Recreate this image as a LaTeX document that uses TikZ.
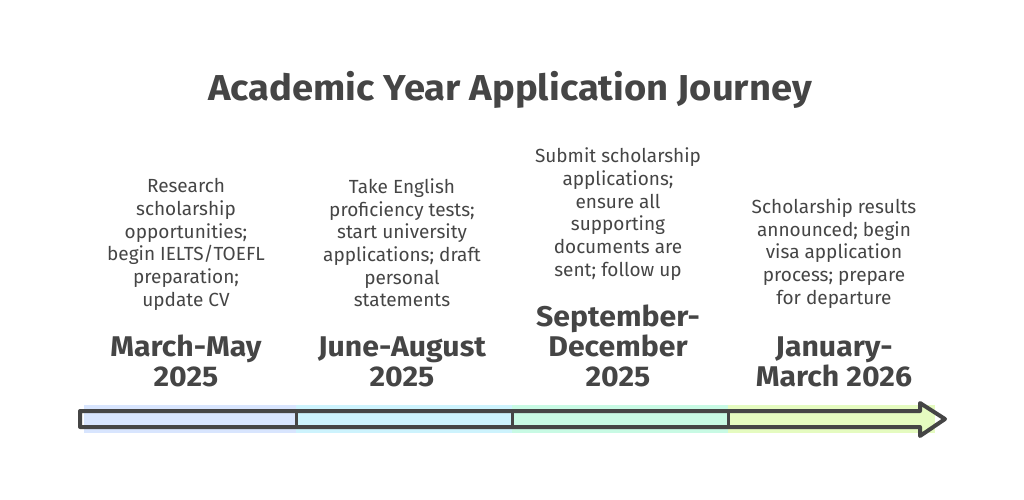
\documentclass[tikz,border=0pt]{standalone}
\usepackage{fontspec}
\setmainfont{Fira Sans}
\newfontfamily\headfont[FakeStretch=1.06]{Fira Sans}
\usepackage{xcolor}
\usetikzlibrary{positioning}
\definecolor{ink}{HTML}{454545}
\definecolor{segA}{HTML}{D8E5FE}
\definecolor{segB}{HTML}{CDF3FD}
\definecolor{segC}{HTML}{C8FAE4}
\definecolor{segD}{HTML}{E5FBC0}
\tikzset{
    titlenode/.style = {text=ink, font=\headfont\fontsize{36}{40}\selectfont\bfseries},
    datenode/.style = {text=ink, align=center, inner sep=0pt, anchor=south, font=\headfont\fontsize{28.5}{30}\selectfont\bfseries},
    descnode/.style = {text=ink, align=center, inner sep=0pt, font=\fontsize{19}{22.7}\selectfont},
    segfill/.style = {draw=none},
    barline/.style = {draw=ink, line width=4pt, line join=round, line cap=round},
}
\begin{document}
\begin{tikzpicture}[x=1pt, y=1pt]
\useasboundingbox (0,0) rectangle (1024,499);
\node[titlenode] at (510,409) (title) {Academic Year Application Journey};
%
% coloured fills under the bar
\fill[segA] (84,66) rectangle (296,94);
\fill[segB] (296,66) rectangle (512,94);
\fill[segC] (512,66) rectangle (728,94);
\fill[segD] (728,66) rectangle (935,94);
%
% bar with arrow head
\coordinate (s) at (80,80);
\coordinate (t) at (945,80);
\draw[barline] (80,88) -- (920,88) -- (920,96) -- (t) -- (920,63) -- (920,72) -- (80,72) -- cycle;
\foreach \px in {296,512,728}
    \draw[barline, line width=3pt] (\px,88) -- (\px,72);
%
% periods
\node[datenode] at (186,112) (d1) {March-May\\2025};
\node[datenode] at (402,112) (d2) {June-August\\2025};
\node[datenode] at (618,112) (d3) {September-\\December\\2025};
\node[datenode] at (834,112) (d4) {January-\\March 2026};
%
\node[descnode, above=24pt of d1] (t1) {Research\\scholarship\\opportunities;\\begin IELTS/TOEFL\\preparation;\\update CV};
\node[descnode, above=29pt of d2] (t2) {Take English\\proficiency tests;\\start university\\applications; draft\\personal\\statements};
\node[descnode, above=24pt of d3] (t3) {Submit scholarship\\applications;\\ensure all\\supporting\\documents are\\sent; follow up};
\node[descnode, above=28pt of d4] (t4) {Scholarship results\\announced; begin\\visa application\\process; prepare\\for departure};
\end{tikzpicture}
\end{document}
